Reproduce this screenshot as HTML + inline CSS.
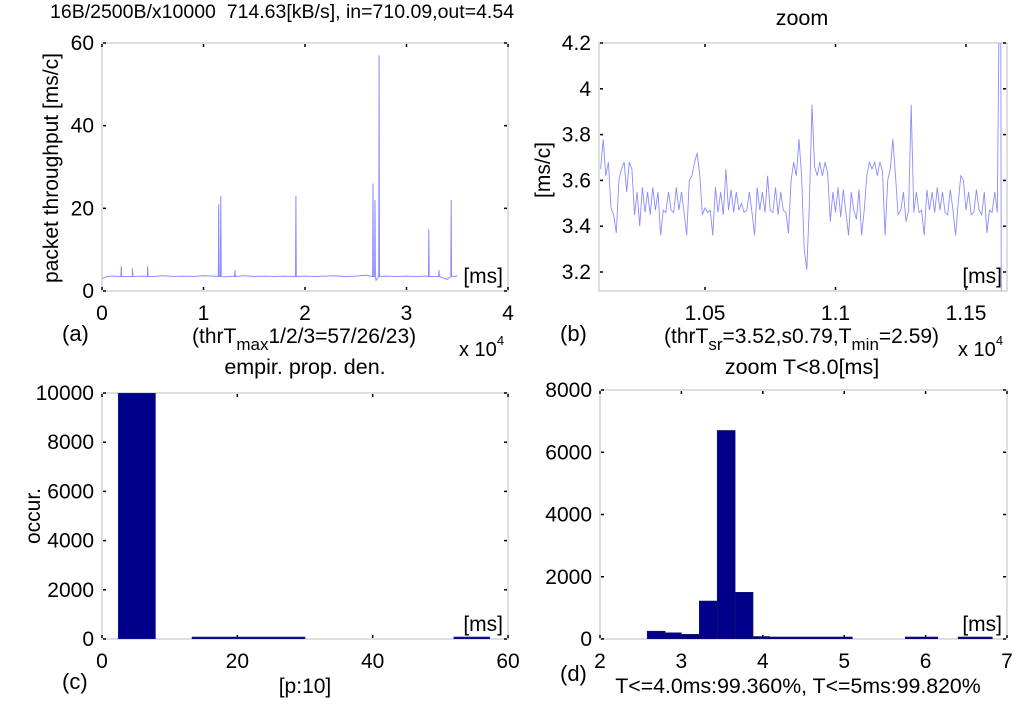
<!DOCTYPE html>
<html><head><meta charset="utf-8"><style>
html,body{margin:0;padding:0;background:#fff}
svg{display:block;font-family:"Liberation Sans",Arial,sans-serif}
</style></head><body>
<svg id="fig" width="1024" height="708" viewBox="0 0 1024 708" xmlns="http://www.w3.org/2000/svg">
<g id="static" fill="#000">
<text x="50" y="18" font-size="19.5" xml:space="preserve">16B/2500B/x10000  714.63[kB/s], in=710.09,out=4.54</text>
<text x="802" y="25" font-size="21.5" text-anchor="middle">zoom</text>
<text x="305" y="374" font-size="21.5" text-anchor="middle">empir. prop. den.</text>
<text x="802" y="374" font-size="21.5" text-anchor="middle">zoom T&lt;8.0[ms]</text>
<text transform="translate(58,168) rotate(-90)" font-size="21" text-anchor="middle">packet throughput [ms/c]</text>
<text transform="translate(550,170) rotate(-90)" font-size="21" text-anchor="middle">[ms/c]</text>
<text transform="translate(40,516) rotate(-90)" font-size="21" text-anchor="middle">occur.</text>
<text x="62" y="341" font-size="22">(a)</text>
<text x="560" y="341" font-size="22">(b)</text>
<text x="62" y="689" font-size="22">(c)</text>
<text x="560" y="681" font-size="22">(d)</text>
<text x="192" y="343" font-size="21">(thrT<tspan font-size="17" dy="7">max</tspan><tspan dy="-7">1/2/3=57/26/23)</tspan></text>
<text x="664" y="343" font-size="21">(thrT<tspan font-size="17" dy="7">sr</tspan><tspan dy="-7">=3.52,s0.79,T</tspan><tspan font-size="17" dy="7">min</tspan><tspan dy="-7">=2.59)</tspan></text>
<text x="459" y="356" font-size="20">x 10<tspan font-size="13" dy="-11">4</tspan></text>
<text x="958" y="356" font-size="20">x 10<tspan font-size="13" dy="-11">4</tspan></text>
<text x="305" y="693" font-size="21" text-anchor="middle">[p:10]</text>
<text x="798" y="693" font-size="21.3" text-anchor="middle">T&lt;=4.0ms:99.360%, T&lt;=5ms:99.820%</text>
</g>
</svg>
<script>
// ---- panel (a) data ----
const aBaseT=[0,0.05,0.1,0.2,0.3,0.4,0.5,0.6,0.7,0.8,0.9,1.0,1.1,1.2,1.3,1.4,1.5,1.6,1.7,1.8,1.9,2.0,2.1,2.2,2.3,2.4,2.5,2.6,2.7,2.8,2.9,3.0,3.1,3.2,3.3,3.4,3.5];
const aBaseV=[3.0,3.5,3.6,3.5,3.7,3.6,3.5,3.7,3.5,3.6,3.5,3.7,3.6,3.4,3.6,3.7,3.5,3.6,3.5,3.6,3.5,3.6,3.5,3.6,3.7,3.5,3.6,3.8,2.6,3.6,3.5,3.6,3.5,3.6,3.5,2.8,3.6];
const aSpikeT=[0.19,0.3,0.45,1.15,1.17,1.31,1.91,2.67,2.69,2.73,3.22,3.32,3.44];
const aSpikeV=[6,5.5,6,21,23,5,23,26,22,57,15,5,22];
const aXTicks=[0,1,2,3,4];
const aYTicks=[0,20,40,60];
// ---- panel (b) data ----
const bStart=1.010;
const bValues=[3.65,3.78,3.62,3.68,3.48,3.45,3.37,3.60,3.65,3.68,3.55,3.68,3.65,3.45,
3.55,3.40,3.57,3.46,3.55,3.45,3.57,3.47,3.55,3.36,3.47,3.46,3.55,3.47,3.46,3.57,3.47,3.55,3.46,3.36,
3.60,3.62,3.68,3.72,3.62,3.45,3.48,3.46,3.47,
3.36,3.57,3.46,3.55,3.45,3.65,3.47,3.56,3.46,3.55,3.47,3.50,3.46,3.47,3.55,3.46,3.36,3.57,3.47,3.55,3.46,3.62,3.47,3.46,3.57,3.45,3.55,3.47,3.46,
3.37,3.60,3.68,3.62,3.78,3.62,3.30,3.21,3.50,3.93,3.66,3.62,3.68,3.62,3.68,3.63,
3.42,3.55,3.46,3.57,3.44,3.56,3.46,3.36,3.55,3.47,3.43,3.56,3.36,3.47,3.62,
3.68,3.65,3.68,3.62,3.68,3.64,3.36,3.60,3.65,3.78,3.62,3.45,3.47,3.55,3.42,3.47,3.93,
3.46,3.55,3.46,3.47,3.36,3.56,3.47,3.55,3.46,3.57,3.47,3.55,3.46,3.45,3.56,3.47,3.36,3.50,3.62,3.60,
3.47,3.55,3.45,3.46,3.56,3.47,3.45,3.55,3.37,3.47,3.46,3.55,3.46];
const bTailT=[1.1632,1.1636];
const bTailV=[5.0,2.5];
const bXTicks=[1.05,1.1,1.15];
const bXLabels=["1.05","1.1","1.15"];
const bYTicks=[3.2,3.4,3.6,3.8,4,4.2];
const bYLabels=["3.2","3.4","3.6","3.8","4","4.2"];
// ---- panel (c) data ----
const cBinL=[2.4,13.3,52];
const cBinR=[7.9,30,57.3];
const cCounts=[10000,30,30];
const cXTicks=[0,20,40,60];
const cYTicks=[0,2000,4000,6000,8000,10000];
// ---- panel (d) data ----
const dBinL=[2.58,2.8,3.0,3.22,3.44,3.66,3.88,4.05,5.75,6.4];
const dBinR=[2.8,3.0,3.22,3.44,3.66,3.88,4.08,5.1,6.15,6.82];
const dCounts=[250,200,150,1220,6700,1500,80,30,30,30];
const dXTicks=[2,3,4,5,6,7];
const dYTicks=[0,2000,4000,6000,8000];

const NS="http://www.w3.org/2000/svg";
const svg=document.getElementById('fig');
function mk(tag,attrs,parent){const e=document.createElementNS(NS,tag);for(const k in attrs)e.setAttribute(k,attrs[k]);(parent||svg).appendChild(e);return e;}
function scale(d0,d1,r0,r1){return v=>r0+(v-d0)/(d1-d0)*(r1-r0);}

function axes(name,L,T,R,B,xs,ys,xt,xl,yt,yl,clip){
  const g=mk('g',{});
  
  
  const box=mk('rect',{x:L,y:T,width:R-L,height:B-T,fill:'none',stroke:'#c8c8c8','stroke-width':1.2},g);
  
  
  xt.forEach((v,i)=>{const x=xs(v);
    mk('line',{x1:x,x2:x,y1:T+1,y2:T+4,stroke:'#000','stroke-width':1.5},g);
    mk('line',{x1:x,x2:x,y1:B-4,y2:B-1,stroke:'#000','stroke-width':1.5},g);
    const t=mk('text',{x:x,y:B+29,'font-size':21,'text-anchor':'middle'},g);t.textContent=xl[i];
    
    });
  yt.forEach((v,i)=>{const y=ys(v);
    mk('line',{x1:L+1,x2:L+4,y1:y,y2:y,stroke:'#000','stroke-width':1.5},g);
    mk('line',{x1:R-4,x2:R-1,y1:y,y2:y,stroke:'#000','stroke-width':1.5},g);
    const t=mk('text',{x:L-8,y:y+7,'font-size':21,'text-anchor':'end'},g);t.textContent=yl[i];
    
    });
  const ms=mk('text',{x:R-5,y:B-8,'font-size':21,'text-anchor':'end'},g);ms.textContent='[ms]';
  
  
  if(clip){const c=mk('clipPath',{id:'clip-'+name},svg);mk('rect',{x:L,y:T,width:R-L,height:B-T},c);}
  return g;
}

// panel a
(function(){
  const L=102,T=43,R=508,B=291;
  const xs=scale(0,4,L,R), ys=scale(0,60,B,T);
  axes('panel-a',L,T,R,B,xs,ys,aXTicks,aXTicks.map(String),aYTicks,aYTicks.map(String),true);
  const pts=[];aBaseT.forEach((t,i)=>pts.push([t,aBaseV[i]]));
  aSpikeT.forEach((t,i)=>{pts.push([t-0.004,3.5]);pts.push([t,aSpikeV[i]]);pts.push([t+0.004,3.5]);});
  pts.sort((a,b)=>a[0]-b[0]);
  const p=mk('polyline',{points:pts.map(q=>xs(q[0]).toFixed(1)+','+ys(q[1]).toFixed(1)).join(' '),fill:'none',stroke:'#8c8cff','stroke-width':1,'clip-path':'url(#clip-panel-a)'});
  
  
})();

// panel b
(function(){
  const L=599,T=43,R=1007,B=291;
  const xs=scale(1.05,1.15,705,966), ys=scale(3.2,4.2,272,43);
  axes('panel-b',L,T,R,B,xs,ys,bXTicks,bXLabels,bYTicks,bYLabels,true);
  const pts=bValues.map((v,i)=>[bStart+0.001*i,v]);
  bTailT.forEach((t,i)=>pts.push([t,bTailV[i]]));
  const p=mk('polyline',{points:pts.map(q=>xs(q[0]).toFixed(1)+','+ys(q[1]).toFixed(1)).join(' '),fill:'none',stroke:'#8c8cff','stroke-width':0.9,'clip-path':'url(#clip-panel-b)'});
  
  
})();

// panel c
(function(){
  const L=102,T=393,R=508,B=639;
  const xs=scale(0,60,L,R), ys=scale(0,10000,B,T);
  axes('panel-c',L,T,R,B,xs,ys,cXTicks,cXTicks.map(String),cYTicks,cYTicks.map(String),true);
  cCounts.forEach((c,i)=>{const x0=xs(cBinL[i]),x1=xs(cBinR[i]),y=Math.min(ys(c),B-2);
    const r=mk('rect',{x:x0,y:y,width:x1-x0,height:B-y,fill:'#00008b',stroke:'#2a2a9a','stroke-width':0.6,'clip-path':'url(#clip-panel-c)'});
    
    });
})();

// panel d
(function(){
  const L=600,T=390,R=1007,B=639;
  const xs=scale(2,7,L,R), ys=scale(0,8000,B,T);
  axes('panel-d',L,T,R,B,xs,ys,dXTicks,dXTicks.map(String),dYTicks,dYTicks.map(String),true);
  dCounts.forEach((c,i)=>{const x0=xs(dBinL[i]),x1=xs(dBinR[i]),y=Math.min(ys(c),B-2);
    const r=mk('rect',{x:x0,y:y,width:x1-x0,height:B-y,fill:'#00008b',stroke:'#1a1a5a','stroke-width':0.6,'clip-path':'url(#clip-panel-d)'});
    
    });
})();
</script>
</body></html>
